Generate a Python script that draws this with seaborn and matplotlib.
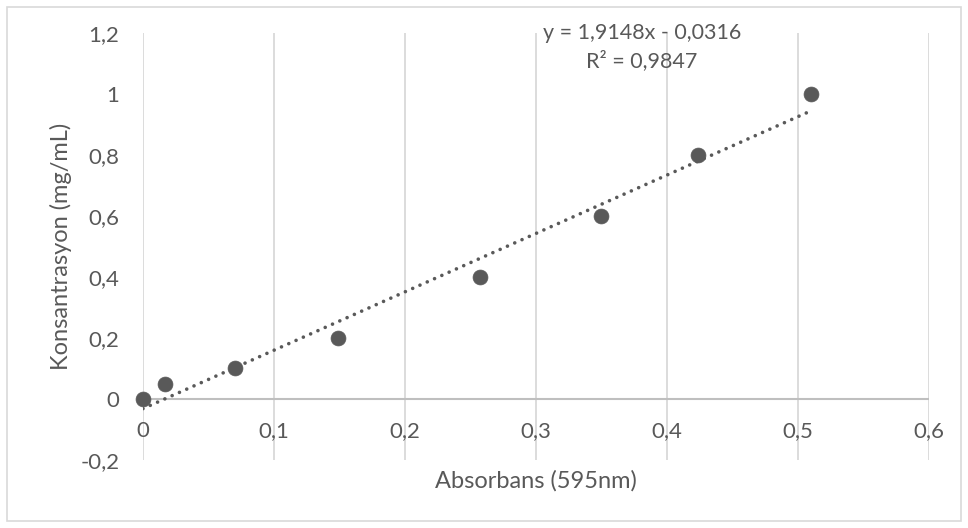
import numpy as np
import pandas as pd
import matplotlib
matplotlib.use('Agg')
import matplotlib.pyplot as plt
import seaborn as sns
from matplotlib.patches import Rectangle

# veriler
absorbans = [0.0, 0.017, 0.070, 0.149, 0.257, 0.350, 0.424, 0.510]
konsantrasyon = [0.0, 0.05, 0.1, 0.2, 0.4, 0.6, 0.8, 1.0]
egim = 1.9148
kesisim = -0.0316
r2 = 0.9847

xticks = [0, 0.1, 0.2, 0.3, 0.4, 0.5, 0.6]
yticks = [-0.2, 0, 0.2, 0.4, 0.6, 0.8, 1, 1.2]

df = pd.DataFrame({'x': absorbans, 'y': konsantrasyon})
x_fit = np.array([min(absorbans), max(absorbans)])
trend = pd.DataFrame({'x': x_fit, 'y': egim * x_fit + kesisim})

sns.set_style('white')
plt.rcParams['font.family'] = ['Lato', 'DejaVu Sans']

grey = '#595959'
fig = plt.figure(figsize=(9.68, 5.28), dpi=100)
ax = fig.add_axes([0.1477, 0.1288, 0.812, 0.8087])

sns.lineplot(data=trend, x='x', y='y', ax=ax, color=grey, linestyle=(0, (0.01, 2.2)),
             linewidth=2.6, dash_capstyle='round', zorder=3)
sns.scatterplot(data=df, x='x', y='y', ax=ax, color=grey, s=115, edgecolor=grey,
                linewidth=0.5, zorder=4, clip_on=False)

ax.set_xlim(0, 0.6)
ax.set_ylim(-0.2, 1.2)
ax.set_xticks(xticks)
ax.set_yticks(yticks)
fmt = lambda v: ('%g' % v).replace('.', ',')
ax.set_xticklabels([fmt(v) for v in xticks])
ax.set_yticklabels([fmt(v) for v in yticks])

for v in xticks:
    ax.axvline(v, color='#d9d9d9', linewidth=1.3, zorder=0)
ax.axhline(0, color='#bfbfbf', linewidth=1.5, zorder=1)

for s in ax.spines.values():
    s.set_visible(False)
ax.spines['bottom'].set_position(('data', 0))
ax.tick_params(axis='both', length=0, labelsize=16, labelcolor=grey)
ax.tick_params(axis='x', pad=16)
ax.tick_params(axis='y', pad=17)

ax.set_xlabel('Absorbans (595nm)', fontsize=17, color=grey)
ax.set_ylabel('Konsantrasyon (mg/mL)', fontsize=17, color=grey)
ax.xaxis.set_label_coords(0.5, -0.049)
ax.yaxis.set_label_coords(-0.104, 0.5)
ax.xaxis.label.set_va('center')
ax.yaxis.label.set_va('center')

ax.text(0.381, 1.2, 'y = 1,9148x - 0,0316', ha='center', va='center',
        fontsize=15.5, color=grey, clip_on=False)
ax.text(0.381, 1.111, 'R² = 0,9847', ha='center', va='center',
        fontsize=15.5, color=grey, clip_on=False)

fig.patches.append(Rectangle((7 / 968, 7 / 528), 954 / 968, 514 / 528,
                             transform=fig.transFigure, fill=False,
                             edgecolor='#d9d9d9', linewidth=1.2))

plt.savefig('out.png', dpi=100)
